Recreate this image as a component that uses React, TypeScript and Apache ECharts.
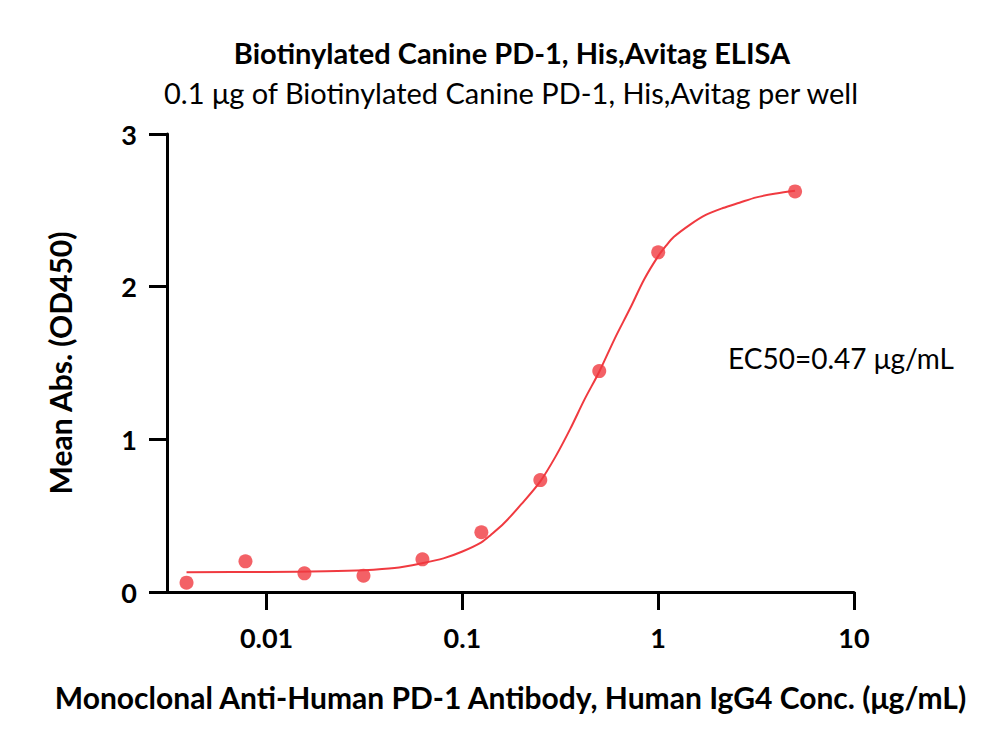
import React, { useEffect, useRef } from "react";
import * as echarts from "echarts";

const TITLE = "Biotinylated Canine PD-1, His,Avitag ELISA";
const SUBTITLE = "0.1 μg of Biotinylated Canine PD-1, His,Avitag per well";
const X_TITLE = "Monoclonal Anti-Human PD-1 Antibody, Human IgG4 Conc. (μg/mL)";
const Y_TITLE = "Mean Abs. (OD450)";
const EC50_TEXT = "EC50=0.47 μg/mL";

// measured points
const concentrations = [0.0039, 0.0078, 0.0156, 0.03125, 0.0625, 0.125, 0.25, 0.5, 1, 5];
const absorbance = [0.061, 0.201, 0.122, 0.107, 0.214, 0.391, 0.733, 1.447, 2.225, 2.624];

// fitted curve
const curveX = [0.0039, 0.01, 0.02, 0.0313, 0.045, 0.063, 0.08, 0.1, 0.125, 0.14, 0.163, 0.2, 0.25, 0.3, 0.356, 0.42, 0.5, 0.6, 0.72, 0.85, 1, 1.1, 1.2, 1.45, 1.75, 2.14, 2.6, 3.17, 4, 5];
const curveY = [0.13, 0.131, 0.136, 0.143, 0.157, 0.19, 0.22, 0.265, 0.325, 0.375, 0.45, 0.575, 0.725, 0.89, 1.07, 1.26, 1.443, 1.66, 1.86, 2.05, 2.2, 2.27, 2.325, 2.405, 2.47, 2.515, 2.55, 2.585, 2.61, 2.628];

const xTicks = [0.01, 0.1, 1, 10];
const xTickLabels = ["0.01", "0.1", "1", "10"];

const RED = "#f03a40";
const FONT = "Lato";

export default function App() {
  const ref = useRef<HTMLDivElement>(null);
  useEffect(() => {
    document.body.style.margin = "0";
    const chart = echarts.init(ref.current!, null, { renderer: "svg" });
    const points = concentrations.map((c, i) => [c, absorbance[i]]);
    const curve = curveX.map((c, i) => [c, curveY[i]]);
    chart.setOption({
      animation: false,
      backgroundColor: "#fff",
      textStyle: { fontFamily: FONT },
      grid: { left: 167, right: 146, top: 134, bottom: 157 },
      xAxis: {
        type: "log",
        logBase: 10,
        min: 0.0031,
        max: 10,
        name: X_TITLE,
        nameLocation: "middle",
        nameGap: 90,
        nameTextStyle: { fontFamily: FONT, fontWeight: "bold", fontSize: 30, color: "#000" },
        axisLine: { show: true, onZero: false, lineStyle: { color: "#000", width: 3 } },
        axisTick: { show: true, length: 18, customValues: xTicks, lineStyle: { color: "#000", width: 3 } },
        axisLabel: {
          customValues: xTicks,
          margin: 32,
          fontFamily: FONT,
          fontWeight: "bold",
          fontSize: 27,
          color: "#000",
          formatter: (v: number) => xTickLabels[xTicks.findIndex((t) => Math.abs(t - v) / t < 1e-6)] ?? "",
        },
        splitLine: { show: false },
        minorTick: { show: false },
      },
      yAxis: {
        type: "value",
        min: 0,
        max: 3,
        interval: 1,
        name: Y_TITLE,
        nameLocation: "middle",
        nameGap: 92,
        nameRotate: 90,
        nameTextStyle: { fontFamily: FONT, fontWeight: "bold", fontSize: 30, color: "#000" },
        axisLine: { show: true, lineStyle: { color: "#000", width: 3 } },
        axisTick: { show: true, length: 18, lineStyle: { color: "#000", width: 3 } },
        axisLabel: { margin: 30, fontFamily: FONT, fontWeight: "bold", fontSize: 27, color: "#000" },
        splitLine: { show: false },
      },
      graphic: [
        {
          type: "text",
          x: 512,
          y: 52,
          style: { text: TITLE, fontFamily: FONT, fontWeight: "bold", fontSize: 29, fill: "#000", textAlign: "center", textVerticalAlign: "middle" },
        },
        {
          type: "text",
          x: 511,
          y: 92,
          style: { text: SUBTITLE, fontFamily: FONT, fontSize: 29, fill: "#000", textAlign: "center", textVerticalAlign: "middle" },
        },
        {
          type: "text",
          x: 728,
          y: 358,
          style: { text: EC50_TEXT, fontFamily: FONT, fontSize: 28, fill: "#000", textAlign: "left", textVerticalAlign: "middle" },
        },
      ],
      series: [
        {
          type: "line",
          data: curve,
          smooth: 0.3,
          showSymbol: false,
          lineStyle: { color: RED, width: 2 },
          z: 2,
        },
        {
          type: "scatter",
          data: points,
          symbol: "circle",
          symbolSize: 14,
          itemStyle: { color: RED },
          z: 3,
        },
      ],
    });
    return () => chart.dispose();
  }, []);
  return <div ref={ref} style={{ width: 1000, height: 749 }} />;
}
